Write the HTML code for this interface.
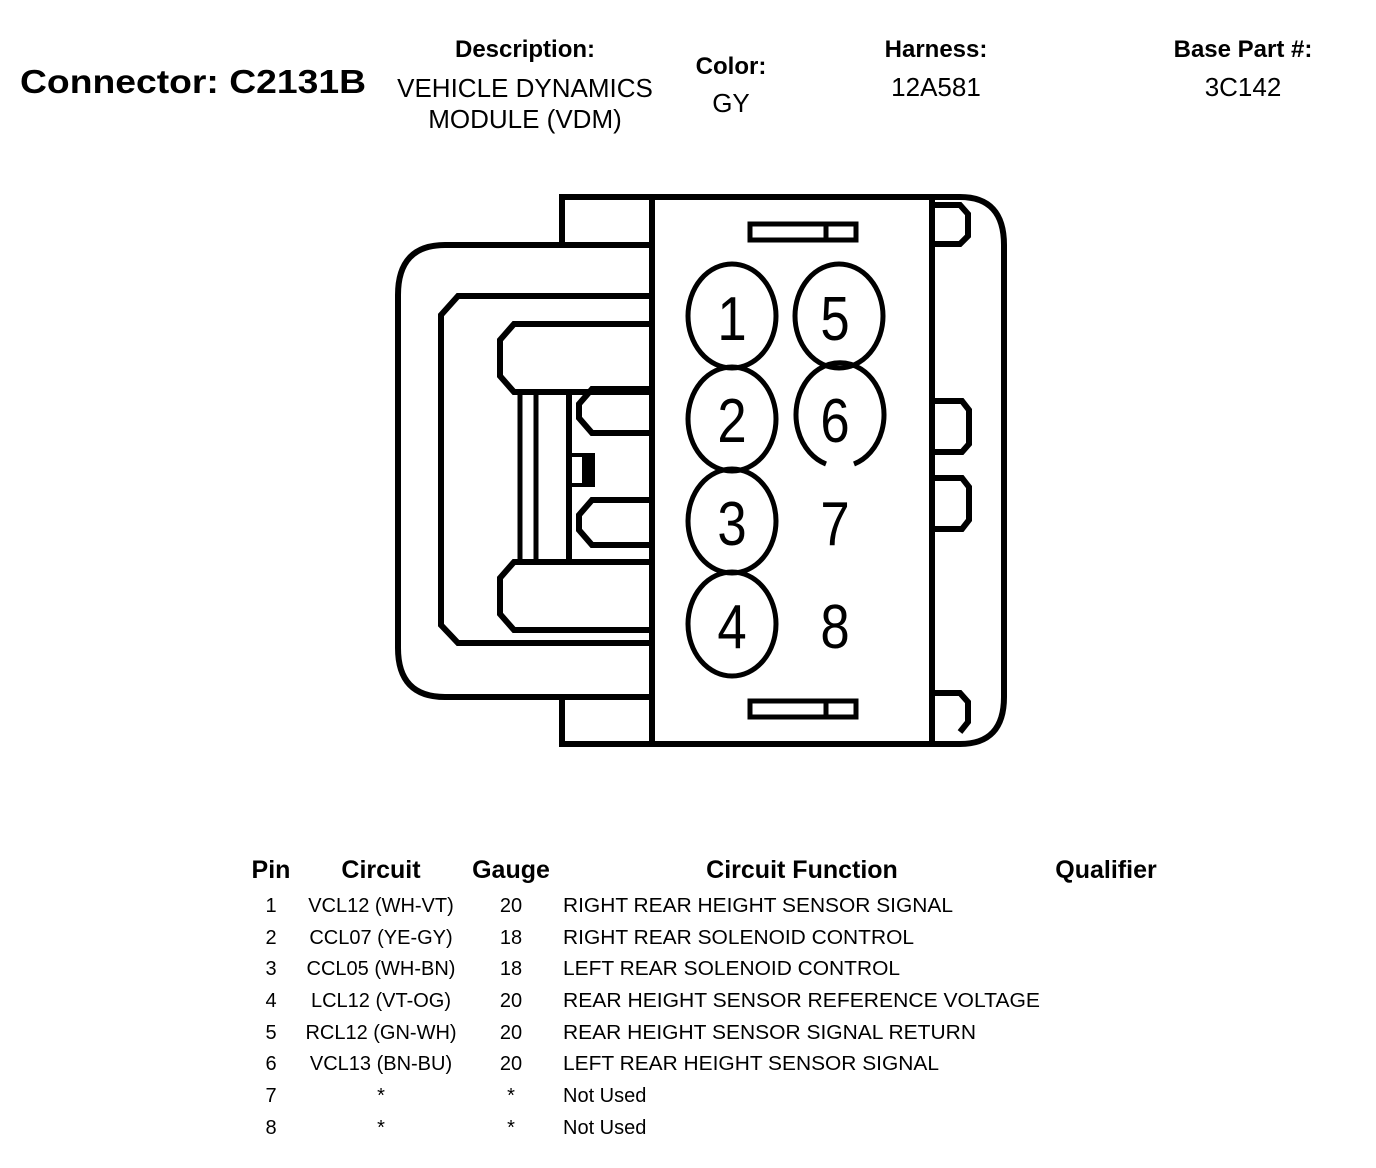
<!DOCTYPE html>
<html><head><meta charset="utf-8"><style>
html,body{margin:0;padding:0;background:#fff;}
svg{display:block;}
text{font-family:"Liberation Sans",Arial,sans-serif;fill:#000;}
</style></head><body>
<svg width="1376" height="1168" viewBox="0 0 1376 1168" xmlns="http://www.w3.org/2000/svg">
<rect width="1376" height="1168" fill="#fff"/>
<text x="20" y="93" font-size="33" font-weight="bold" textLength="346" lengthAdjust="spacingAndGlyphs">Connector: C2131B</text>
<g text-anchor="middle">
<text x="525" y="57" font-size="24" font-weight="bold">Description:</text>
<text x="525" y="97" font-size="26">VEHICLE DYNAMICS</text>
<text x="525" y="128" font-size="26">MODULE (VDM)</text>
<text x="731" y="74" font-size="24" font-weight="bold">Color:</text>
<text x="731" y="112" font-size="26">GY</text>
<text x="936" y="57" font-size="24" font-weight="bold">Harness:</text>
<text x="936" y="96" font-size="26">12A581</text>
<text x="1243" y="57" font-size="24" font-weight="bold">Base Part #:</text>
<text x="1243" y="96" font-size="26">3C142</text>
</g>
<g fill="none" stroke="#000" stroke-width="6">
<path d="M652 245 H445 Q398 245 398 295 V648 Q398 697 445 697 H652"/>
<path d="M652 296 H458 L441 315 V625 L458 643 H652"/>
<path d="M652 324 H514 L500 340 V376 L514 392 H652"/>
<path d="M652 562 H514 L500 578 V614 L514 630 H652"/>
<path d="M652 389 H592 L579 404 V418 L592 433 H652"/>
<path d="M652 500 H592 L579 515 V530 L592 545 H652"/>
<path d="M520 392 V562 M536 392 V562" stroke-width="5"/>
<path d="M569 392 V562"/>
<!-- main body: top & bottom stubs + right part -->
<path d="M652 245 H562 V197 H960 Q1004 197 1004 245 V697 Q1004 744 960 744 H562 V697 H652"/>
<path d="M652 197 V744 M932 197 V744"/>
<path d="M932 205 H960 L968 214 V236 L960 244 H932"/>
<path d="M932 401 H962 L969 410 V444 L962 452 H932"/>
<path d="M932 478 H962 L969 487 V520 L962 529 H932"/>
<path d="M932 693 H960 L968 702 V722 L960 732"/>
<rect x="750" y="224" width="106" height="16" stroke-width="5"/>
<path d="M826 224 V240" stroke-width="5"/>
<rect x="750" y="701" width="106" height="16" stroke-width="5"/>
<path d="M826 701 V717" stroke-width="5"/>
<ellipse cx="732" cy="316" rx="44" ry="52" stroke-width="5"/>
<ellipse cx="839" cy="316" rx="44" ry="52" stroke-width="5"/>
<ellipse cx="732" cy="419" rx="44" ry="52" stroke-width="5"/>
<path d="M826 464 A44 52 0 1 1 854 464" stroke-width="5"/>
<ellipse cx="732" cy="521" rx="44" ry="52" stroke-width="5"/>
<ellipse cx="732" cy="624" rx="44" ry="52" stroke-width="5"/>
</g>
<rect x="569" y="453" width="26" height="34" fill="#000"/>
<rect x="572" y="457" width="10" height="26" fill="#fff"/>
<g text-anchor="middle" font-size="62">
<text transform="translate(732 340) scale(0.85 1)">1</text>
<text transform="translate(835 340) scale(0.85 1)">5</text>
<text transform="translate(732 442) scale(0.85 1)">2</text>
<text transform="translate(835 442) scale(0.85 1)">6</text>
<text transform="translate(732 545) scale(0.85 1)">3</text>
<text transform="translate(835 545) scale(0.85 1)">7</text>
<text transform="translate(732 648) scale(0.85 1)">4</text>
<text transform="translate(835 648) scale(0.85 1)">8</text>
</g>
<g font-size="25" font-weight="bold" text-anchor="middle">
<text x="271" y="878">Pin</text>
<text x="381" y="878">Circuit</text>
<text x="511" y="878">Gauge</text>
<text x="802" y="878">Circuit Function</text>
<text x="1106" y="878">Qualifier</text>
</g>
<g font-size="20">
<g text-anchor="middle">
<text x="271" y="912">1</text><text x="381" y="912">VCL12 (WH-VT)</text><text x="511" y="912">20</text>
<text x="271" y="944">2</text><text x="381" y="944">CCL07 (YE-GY)</text><text x="511" y="944">18</text>
<text x="271" y="975">3</text><text x="381" y="975">CCL05 (WH-BN)</text><text x="511" y="975">18</text>
<text x="271" y="1007">4</text><text x="381" y="1007">LCL12 (VT-OG)</text><text x="511" y="1007">20</text>
<text x="271" y="1039">5</text><text x="381" y="1039">RCL12 (GN-WH)</text><text x="511" y="1039">20</text>
<text x="271" y="1070">6</text><text x="381" y="1070">VCL13 (BN-BU)</text><text x="511" y="1070">20</text>
<text x="271" y="1102">7</text><text x="381" y="1102">*</text><text x="511" y="1102">*</text>
<text x="271" y="1134">8</text><text x="381" y="1134">*</text><text x="511" y="1134">*</text>
</g>
<text x="563" y="912" textLength="390" lengthAdjust="spacingAndGlyphs">RIGHT REAR HEIGHT SENSOR SIGNAL</text>
<text x="563" y="944" textLength="351" lengthAdjust="spacingAndGlyphs">RIGHT REAR SOLENOID CONTROL</text>
<text x="563" y="975" textLength="337" lengthAdjust="spacingAndGlyphs">LEFT REAR SOLENOID CONTROL</text>
<text x="563" y="1007" textLength="477" lengthAdjust="spacingAndGlyphs">REAR HEIGHT SENSOR REFERENCE VOLTAGE</text>
<text x="563" y="1039" textLength="413" lengthAdjust="spacingAndGlyphs">REAR HEIGHT SENSOR SIGNAL RETURN</text>
<text x="563" y="1070" textLength="376" lengthAdjust="spacingAndGlyphs">LEFT REAR HEIGHT SENSOR SIGNAL</text>
<text x="563" y="1102">Not Used</text>
<text x="563" y="1134">Not Used</text>
</g>
</svg>
</body></html>
